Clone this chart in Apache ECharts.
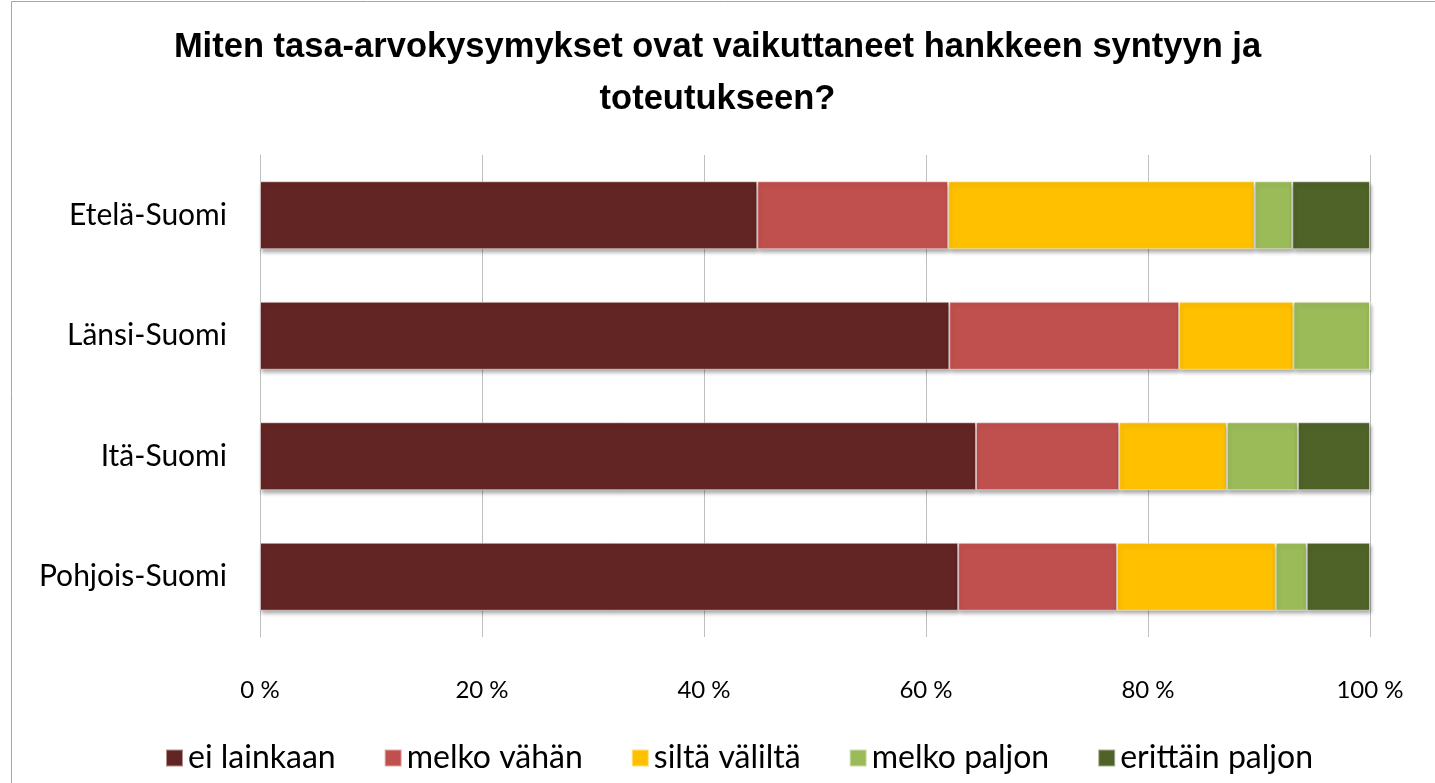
<!DOCTYPE html>
<html>
<head>
<meta charset="utf-8">
<script src="https://cdn.jsdelivr.net/npm/echarts@6/dist/echarts.min.js"></script>
<style>html,body{margin:0;padding:0;background:#fff;}#c{width:1435px;height:783px;}</style>
</head>
<body>
<div id="c"></div>
<script>
const categories = ['Etelä-Suomi', 'Länsi-Suomi', 'Itä-Suomi', 'Pohjois-Suomi'];
const seriesNames = ['ei lainkaan', 'melko vähän', 'siltä väliltä', 'melko paljon', 'erittäin paljon'];
const eiLainkaan = [44.8, 62.1, 64.5, 62.9];
const melkoVahan = [17.2, 20.7, 12.9, 14.3];
const siltaValilta = [27.6, 10.3, 9.7, 14.3];
const melkoPaljon = [3.4, 6.9, 6.4, 2.8];
const erittainPaljon = [7.0, 0, 6.5, 5.7];
const xTicks = [0, 20, 40, 60, 80, 100];
const colors = ['#632523', '#C0504D', '#FFC000', '#9BBB59', '#4F6228'];
const allValues = [eiLainkaan, melkoVahan, siltaValilta, melkoPaljon, erittainPaljon];

const labelFont = 'Lato, "Open Sans", sans-serif';
const chart = echarts.init(document.getElementById('c'), null, {renderer: 'canvas'});
chart.setOption({
  animation: false,
  color: colors,
  title: {
    text: 'Miten tasa-arvokysymykset ovat vaikuttaneet hankkeen syntyyn ja\ntoteutukseen?',
    left: 'center', top: 16,
    textStyle: {fontFamily: '"Liberation Sans Narrow", "Liberation Sans", sans-serif', fontWeight: 'bold', fontSize: 34.5, lineHeight: 52, color: '#000'}
  },
  graphic: [{type: 'rect', shape: {x: 11.5, y: 1.5, width: 1440, height: 800}, style: {fill: null, stroke: '#a6a6a6', lineWidth: 1}, silent: true, z: -10}],
  legend: {
    bottom: 4, left: 160,
    itemWidth: 17, itemHeight: 17, itemGap: 48,
    icon: 'rect',
    textStyle: {fontFamily: labelFont, fontSize: 32, color: '#000'},
    data: seriesNames
  },
  grid: {left: 260, right: 65, top: 155, bottom: 146, containLabel: false},
  xAxis: {
    type: 'value', min: xTicks[0], max: xTicks[xTicks.length - 1], interval: 20,
    axisLabel: {formatter: '{value} %', fontFamily: labelFont, fontSize: 24, color: '#000', margin: 41},
    axisLine: {show: false}, axisTick: {show: false},
    splitLine: {show: true, lineStyle: {color: '#bfbfbf', width: 1}}
  },
  yAxis: {
    type: 'category', data: categories, inverse: true,
    axisLabel: {fontFamily: labelFont, fontSize: 30, color: '#000', margin: 33},
    axisLine: {show: true, lineStyle: {color: '#bfbfbf'}},
    axisTick: {show: false},
    splitLine: {show: false}
  },
  series: seriesNames.map((n, i) => ({
    name: n, type: 'bar', stack: 'total', barWidth: 68,
    data: allValues[i],
    itemStyle: {color: colors[i], borderColor: 'rgba(255,255,255,0.5)', borderWidth: 1,
      shadowColor: 'rgba(0,0,0,0.35)', shadowBlur: 4, shadowOffsetY: 3, shadowOffsetX: 1}
  }))
});
</script>
</body>
</html>
